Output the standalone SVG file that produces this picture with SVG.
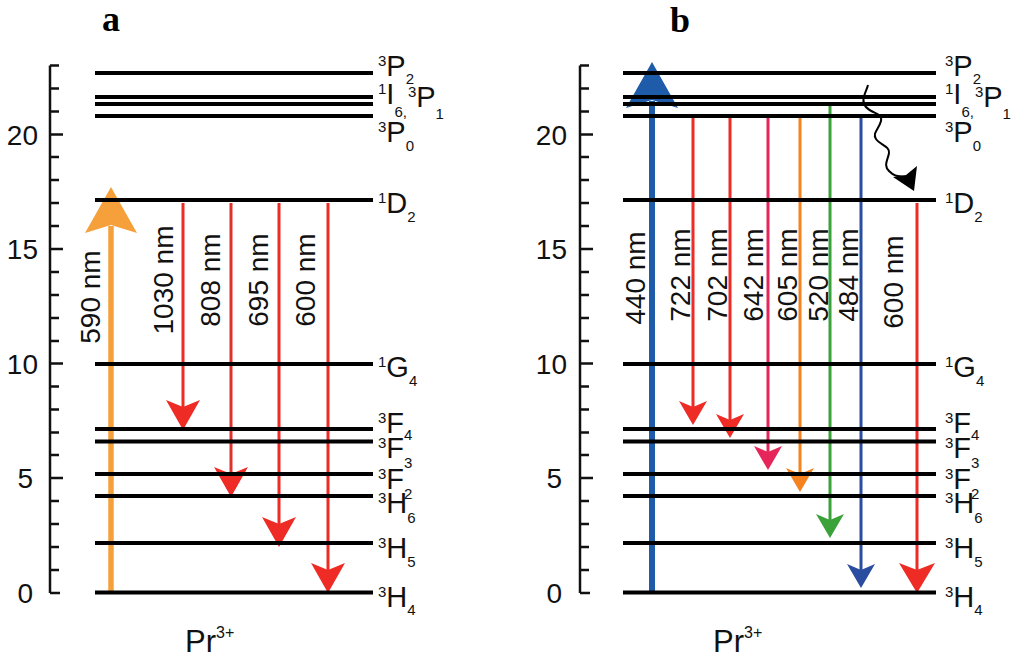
<svg xmlns="http://www.w3.org/2000/svg" xmlns:xlink="http://www.w3.org/1999/xlink" width="1024" height="663" viewBox="0 0 1024 663">
<style>
.lvl{stroke:#000;stroke-width:4;fill:none}
.ax{stroke:#111;stroke-width:2.5;fill:none}
.t{font-family:"Liberation Sans",Arial,Helvetica,sans-serif;fill:#111}
.lab{font-size:29px}
.s{font-size:15px}
.nm{font-size:28px;text-anchor:middle}
.tick{font-size:28px;text-anchor:end}
.ttl{font-family:"Liberation Serif","Times New Roman",serif;font-weight:bold;font-size:36px;fill:#000}
.ln{fill:none;stroke-width:3}
</style>
<defs>
<path id="axis" d="M50,65.5V593 M50,593H60 M50,570H59 M50,547H59 M50,524H59 M50,501H59 M50,478H63 M50,455H59 M50,432.5H59 M50,409.5H59 M50,386.5H59 M50,363.5H63 M50,341H59 M50,318H59 M50,295H59 M50,272H59 M50,249H63 M50,226H59 M50,203H59 M50,180H59 M50,157H59 M50,134.5H63 M50,111.5H59 M50,88.5H59 M50,65.5H59"/>
<path id="hA" d="M0,0 L-17,-30 L0,-23 L17,-30 Z"/>
<path id="hB" d="M0,0 L-14,-24 L0,-18 L14,-24 Z"/>
<path id="hC" d="M0,0 L-18,-30 L0,-23 L18,-30 Z"/>
<path id="hU" d="M0,0 L-26,46 L0,38 L26,46 Z"/>
</defs>
<rect width="1024" height="663" fill="#fff"/>

<text class="ttl" x="102" y="31">a</text>
<text class="ttl" x="670" y="32">b</text>

<g id="axes">
<use xlink:href="#axis" class="ax"/>
<use xlink:href="#axis" class="ax" transform="translate(530,0)"/>
<g class="t tick">
<text x="33" y="603">0</text><text x="33" y="488">5</text><text x="38" y="373.5">10</text><text x="38" y="259">15</text><text x="38" y="144.5">20</text>
<text x="562" y="603">0</text><text x="562" y="488">5</text><text x="567" y="373.5">10</text><text x="567" y="259">15</text><text x="567" y="144.5">20</text>
</g>
</g>

<g id="connectors">
<g id="a-590"><line x1="111" y1="593" x2="111" y2="226" stroke="#F5A03A" stroke-width="5.5"/><use xlink:href="#hU" transform="translate(111,187)" fill="#F5A03A"/></g>
<g id="a-1030" stroke="#EE2B25" fill="#EE2B25"><line class="ln" x1="183" y1="203" x2="183" y2="409"/><use xlink:href="#hA" transform="translate(183,430)" stroke="none"/></g>
<g id="a-808" stroke="#E0302C" fill="#EE2B25"><line class="ln" x1="231" y1="203" x2="231" y2="476"/><use xlink:href="#hA" transform="translate(231,497)" stroke="none"/></g>
<g id="a-695" stroke="#EE2B25" fill="#EE2B25"><line class="ln" x1="279" y1="203" x2="279" y2="526"/><use xlink:href="#hA" transform="translate(279,547)" stroke="none"/></g>
<g id="a-600" stroke="#EE2B25" fill="#EE2B25"><line class="ln" x1="328" y1="203" x2="328" y2="572"/><use xlink:href="#hA" transform="translate(328,593)" stroke="none"/></g>
<g id="b-440"><line x1="652" y1="593" x2="652" y2="101" stroke="#1E5BA8" stroke-width="6"/><use xlink:href="#hU" transform="translate(652,62)" fill="#1E5BA8"/></g>
<g id="b-722" stroke="#EE2B25" fill="#EE2B25"><line class="ln" x1="693" y1="116" x2="693" y2="408"/><use xlink:href="#hB" transform="translate(693,425)" stroke="none"/></g>
<g id="b-702" stroke="#EE2B25" fill="#EE2B25"><line class="ln" x1="730" y1="117" x2="730" y2="421"/><use xlink:href="#hB" transform="translate(730,438)" stroke="none"/></g>
<g id="b-642" stroke="#E6255A" fill="#E6255A"><line class="ln" x1="768" y1="117" x2="768" y2="453"/><use xlink:href="#hB" transform="translate(768,470)" stroke="none"/></g>
<g id="b-605" stroke="#F5821F" fill="#F5821F"><line class="ln" x1="800" y1="117" x2="800" y2="475"/><use xlink:href="#hB" transform="translate(800,492)" stroke="none"/></g>
<g id="b-520" stroke="#3BA23A" fill="#3BA23A"><line class="ln" x1="830" y1="105" x2="830" y2="521"/><use xlink:href="#hB" transform="translate(830,538)" stroke="none"/></g>
<g id="b-484" stroke="#2A4DA0" fill="#2A4DA0"><line class="ln" x1="861" y1="117" x2="861" y2="571"/><use xlink:href="#hB" transform="translate(861,588)" stroke="none"/></g>
<g id="b-600" stroke="#EE2B25" fill="#EE2B25"><line class="ln" x1="917" y1="203" x2="917" y2="572"/><use xlink:href="#hC" transform="translate(917,593)" stroke="none"/></g>
<g id="b-relax"><path d="M868,85 C866,93 860,100 866,107 S883,113 881,121 S872,133 876,139 S890,146 889,153 S883,165 889,171 S898,176 905,177" fill="none" stroke="#000" stroke-width="2"/><path d="M914,191 L893,177 L906,175 L917,166 Z" fill="#000"/></g>
<g class="t nm">
<text transform="translate(100,297) rotate(-90)">590 nm</text>
<text transform="translate(173,280) rotate(-90)">1030 nm</text>
<text transform="translate(220,280) rotate(-90)">808 nm</text>
<text transform="translate(268,280) rotate(-90)">695 nm</text>
<text transform="translate(315,280) rotate(-90)">600 nm</text>
<text transform="translate(645,278) rotate(-90)">440 nm</text>
<text transform="translate(690,275) rotate(-90)">722 nm</text>
<text transform="translate(727,275) rotate(-90)">702 nm</text>
<text transform="translate(763,275) rotate(-90)">642 nm</text>
<text transform="translate(797,275) rotate(-90)">605 nm</text>
<text transform="translate(828,275) rotate(-90)">520 nm</text>
<text transform="translate(858,275) rotate(-90)">484 nm</text>
<text transform="translate(903,282) rotate(-90)">600 nm</text>
</g>
</g>

<g id="a-3P2"><line class="lvl" x1="95" y1="73" x2="373" y2="73"/><text class="t lab" x="378" y="76"><tspan class="s" dy="-10">3</tspan><tspan dy="10">P</tspan><tspan class="s" dy="8">2</tspan></text></g>
<g id="a-1I6"><line class="lvl" x1="95" y1="97" x2="373" y2="97"/><text class="t lab" x="378" y="104"><tspan class="s" dy="-10">1</tspan><tspan dy="10">I</tspan><tspan class="s" dy="13">6,</tspan><tspan class="s" dx="1" dy="-20">3</tspan><tspan dy="10">P</tspan><tspan class="s" dy="12">1</tspan></text></g>
<g id="a-3P1"><line class="lvl" x1="95" y1="104" x2="373" y2="104"/></g>
<g id="a-3P0"><line class="lvl" x1="95" y1="116" x2="373" y2="116"/><text class="t lab" x="378" y="142"><tspan class="s" dy="-10">3</tspan><tspan dy="10">P</tspan><tspan class="s" dy="9">0</tspan></text></g>
<g id="a-1D2"><line class="lvl" x1="95" y1="200" x2="373" y2="200"/><text class="t lab" x="378" y="213"><tspan class="s" dy="-10">1</tspan><tspan dy="10">D</tspan><tspan class="s" dy="9">2</tspan></text></g>
<g id="a-1G4"><line class="lvl" x1="95" y1="364" x2="373" y2="364"/><text class="t lab" x="378" y="377"><tspan class="s" dy="-10">1</tspan><tspan dy="10">G</tspan><tspan class="s" dy="9">4</tspan></text></g>
<g id="a-3F4"><line class="lvl" x1="95" y1="429" x2="373" y2="429"/><text class="t lab" x="378" y="433"><tspan class="s" dy="-10">3</tspan><tspan dy="10">F</tspan><tspan class="s" dy="7">4</tspan></text></g>
<g id="a-3F3"><line class="lvl" x1="95" y1="441.5" x2="373" y2="441.5"/><text class="t lab" x="378" y="458"><tspan class="s" dy="-10">3</tspan><tspan dy="10">F</tspan><tspan class="s" dy="10">3</tspan></text></g>
<g id="a-3F2"><line class="lvl" x1="95" y1="474" x2="373" y2="474"/><text class="t lab" x="378" y="489"><tspan class="s" dy="-10">3</tspan><tspan dy="10">F</tspan><tspan class="s" dy="10">2</tspan></text></g>
<g id="a-3H6"><line class="lvl" x1="95" y1="496" x2="373" y2="496"/><text class="t lab" x="378" y="513"><tspan class="s" dy="-10">3</tspan><tspan dy="10">H</tspan><tspan class="s" dy="10">6</tspan></text></g>
<g id="a-3H5"><line class="lvl" x1="95" y1="543" x2="373" y2="543"/><text class="t lab" x="378" y="558"><tspan class="s" dy="-10">3</tspan><tspan dy="10">H</tspan><tspan class="s" dy="9">5</tspan></text></g>
<g id="a-3H4"><line class="lvl" x1="95" y1="592.5" x2="373" y2="592.5"/><text class="t lab" x="378" y="607"><tspan class="s" dy="-10">3</tspan><tspan dy="10">H</tspan><tspan class="s" dy="8">4</tspan></text></g>

<g id="b-3P2"><line class="lvl" x1="623" y1="73" x2="936" y2="73"/><text class="t lab" x="945" y="76"><tspan class="s" dy="-10">3</tspan><tspan dy="10">P</tspan><tspan class="s" dy="8">2</tspan></text></g>
<g id="b-1I6"><line class="lvl" x1="623" y1="97" x2="936" y2="97"/><text class="t lab" x="945" y="104"><tspan class="s" dy="-10">1</tspan><tspan dy="10">I</tspan><tspan class="s" dy="13">6,</tspan><tspan class="s" dx="1" dy="-20">3</tspan><tspan dy="10">P</tspan><tspan class="s" dy="12">1</tspan></text></g>
<g id="b-3P1"><line class="lvl" x1="623" y1="104" x2="936" y2="104"/></g>
<g id="b-3P0"><line class="lvl" x1="623" y1="116" x2="936" y2="116"/><text class="t lab" x="945" y="142"><tspan class="s" dy="-10">3</tspan><tspan dy="10">P</tspan><tspan class="s" dy="9">0</tspan></text></g>
<g id="b-1D2"><line class="lvl" x1="623" y1="200" x2="936" y2="200"/><text class="t lab" x="945" y="213"><tspan class="s" dy="-10">1</tspan><tspan dy="10">D</tspan><tspan class="s" dy="9">2</tspan></text></g>
<g id="b-1G4"><line class="lvl" x1="623" y1="364" x2="936" y2="364"/><text class="t lab" x="945" y="377"><tspan class="s" dy="-10">1</tspan><tspan dy="10">G</tspan><tspan class="s" dy="9">4</tspan></text></g>
<g id="b-3F4"><line class="lvl" x1="623" y1="429" x2="936" y2="429"/><text class="t lab" x="945" y="433"><tspan class="s" dy="-10">3</tspan><tspan dy="10">F</tspan><tspan class="s" dy="7">4</tspan></text></g>
<g id="b-3F3"><line class="lvl" x1="623" y1="441.5" x2="936" y2="441.5"/><text class="t lab" x="945" y="458"><tspan class="s" dy="-10">3</tspan><tspan dy="10">F</tspan><tspan class="s" dy="10">3</tspan></text></g>
<g id="b-3F2"><line class="lvl" x1="623" y1="474" x2="936" y2="474"/><text class="t lab" x="945" y="489"><tspan class="s" dy="-10">3</tspan><tspan dy="10">F</tspan><tspan class="s" dy="10">2</tspan></text></g>
<g id="b-3H6"><line class="lvl" x1="623" y1="496" x2="936" y2="496"/><text class="t lab" x="945" y="513"><tspan class="s" dy="-10">3</tspan><tspan dy="10">H</tspan><tspan class="s" dy="10">6</tspan></text></g>
<g id="b-3H5"><line class="lvl" x1="623" y1="543" x2="936" y2="543"/><text class="t lab" x="945" y="558"><tspan class="s" dy="-10">3</tspan><tspan dy="10">H</tspan><tspan class="s" dy="9">5</tspan></text></g>
<g id="b-3H4"><line class="lvl" x1="623" y1="592.5" x2="936" y2="592.5"/><text class="t lab" x="945" y="607"><tspan class="s" dy="-10">3</tspan><tspan dy="10">H</tspan><tspan class="s" dy="8">4</tspan></text></g>

<g id="ion-labels" class="t">
<text x="185" y="652" font-size="31">Pr<tspan font-size="16" dy="-14">3+</tspan></text>
<text x="713" y="652" font-size="31">Pr<tspan font-size="16" dy="-14">3+</tspan></text>
</g>
</svg>
